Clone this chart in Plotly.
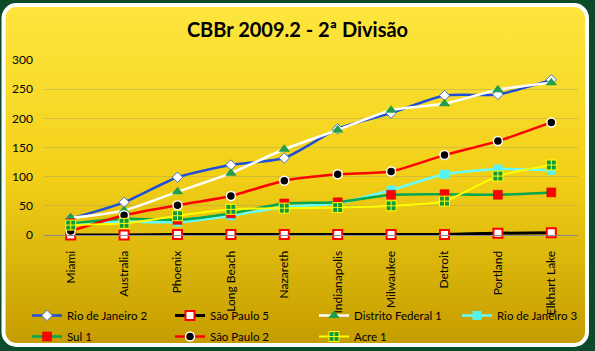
import base64
import plotly.graph_objects as go

W, H = 595, 351

categories = ["Miami", "Australia", "Phoenix", "Long Beach", "Nazareth",
              "Indianapolis", "Milwaukee", "Detroit", "Portland", "Elkhart Lake"]

rio_de_janeiro_2 = [28, 56, 99, 120, 132, 182, 209, 239, 241, 266]
sao_paulo_5 = [0, 0, 1, 1, 1, 1, 1, 1, 3, 4]
distrito_federal_1 = [29, 42, 74, 106, 147, 180, 214, 225, 249, 261]
rio_de_janeiro_3 = [20, 23, 22, 33, 48, 54, 77, 104, 113, 111]
sul_1 = [20, 28, 26, 37, 54, 56, 69, 70, 69, 73]
sao_paulo_2 = [7, 34, 51, 67, 93, 104, 109, 137, 161, 193]
acre_1 = [17, 20, 33, 44, 46, 47, 50, 58, 101, 120]

y_ticks = [0, 50, 100, 150, 200, 250, 300]

# (name, values, line, marker, legend column)
series = [
    ("Rio de Janeiro 2", rio_de_janeiro_2, dict(color="#1f4ed8", width=2.5),
     dict(symbol="diamond", size=8, color="white", line=dict(color="#4a70c8", width=1)), "legend"),
    ("São Paulo 5", sao_paulo_5, dict(color="black", width=3),
     dict(symbol="square", size=9, color="white", line=dict(color="#ff0000", width=2)), "legend2"),
    ("Distrito Federal 1", distrito_federal_1, dict(color="white", width=2.5),
     dict(symbol="triangle-up", size=10, color="#1f9e4c", line=dict(color="#1f9e4c", width=0)), "legend3"),
    ("Rio de Janeiro 3", rio_de_janeiro_3, dict(color="#66ffff", width=2.5),
     dict(symbol="square", size=9, color="#55f2f2", line=dict(color="#55f2f2", width=0)), "legend4"),
    ("Sul 1", sul_1, dict(color="#00a651", width=2.5),
     dict(symbol="square", size=9, color="#ff0000", line=dict(color="#cc0000", width=0.5)), "legend"),
    ("São Paulo 2", sao_paulo_2, dict(color="#ff0000", width=2.5),
     dict(symbol="circle", size=9, color="black", line=dict(color="white", width=1.5)), "legend2"),
    ("Acre 1", acre_1, dict(color="#ffff00", width=2),
     dict(symbol="square-cross", size=10, color="#0f9a40", line=dict(color="#ffff00", width=1)), "legend3"),
]

fig = go.Figure()
for i, (name, vals, line, marker, leg) in enumerate(series):
    fig.add_trace(go.Scatter(
        x=categories, y=vals, name=name, mode="lines+markers",
        line=dict(shape="spline", smoothing=0.6, **line),
        marker=marker, cliponaxis=False, legend=leg, legendgroup=f"g{i}",
    ))

# background: dark green with rounded white-bordered yellow gradient panel
svg = f'''<svg xmlns="http://www.w3.org/2000/svg" width="{W}" height="{H}" viewBox="0 0 {W} {H}">
<defs><linearGradient id="g" x1="0" y1="0" x2="0" y2="1">
<stop offset="0" stop-color="#fee63f"/>
<stop offset="0.5" stop-color="#f2d018"/>
<stop offset="1" stop-color="#c49c00"/>
</linearGradient></defs>
<rect x="0" y="0" width="{W}" height="{H}" fill="#0b4b2a"/>
<rect x="3.5" y="5" width="583.5" height="340" rx="13" ry="13" fill="url(#g)" stroke="white" stroke-width="4"/>
</svg>'''
src = "data:image/svg+xml;base64," + base64.b64encode(svg.encode()).decode()

L, R, T, B = 44, 17, 60, 116
pw, ph = W - L - R, H - T - B
fig.add_layout_image(dict(
    source=src, xref="paper", yref="paper",
    x=-L / pw, y=1 + T / ph, sizex=W / pw, sizey=H / ph,
    xanchor="left", yanchor="top", sizing="stretch", layer="below",
))

def legend_at(xpx):
    return dict(orientation="v", xref="container", yref="container",
                x=xpx / W, y=1 - 301 / H, xanchor="left", yanchor="top",
                bgcolor="rgba(0,0,0,0)", tracegroupgap=2,
                font=dict(size=11.5, color="black"), itemclick=False, itemdoubleclick=False)

fig.update_layout(
    width=W, height=H,
    margin=dict(l=L, r=R, t=T, b=B, autoexpand=False),
    paper_bgcolor="#0b4b2a", plot_bgcolor="rgba(0,0,0,0)",
    font=dict(family="Lato, Liberation Sans, sans-serif", size=12, color="black"),
    title=dict(text="<b>CBBr 2009.2 - 2ª Divisão</b>", x=0.5, xanchor="center",
               y=1 - 30 / H, yanchor="middle",
               font=dict(size=20, color="black", family="Lato, sans-serif")),
    showlegend=True,
    legend=legend_at(27),
    legend2=legend_at(170),
    legend3=legend_at(314),
    legend4=legend_at(457),
    xaxis=dict(type="category", range=[-0.5, 9.5], tickangle=-90, automargin=False,
               showgrid=False, showline=True, linecolor="#8c8c8c", linewidth=1,
               ticks="", ticklabelstandoff=10, zeroline=False,
               tickfont=dict(size=12, color="black")),
    yaxis=dict(range=[0, 300], tickvals=y_ticks, showgrid=True, automargin=False,
               gridcolor="rgba(150,150,120,0.35)", gridwidth=1, zeroline=False,
               showline=False, ticks="", ticklabelstandoff=10,
               tickfont=dict(size=12, color="black")),
)

fig.write_html("out.html")
